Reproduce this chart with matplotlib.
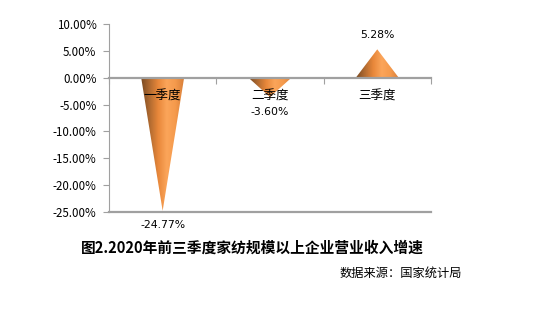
import matplotlib
matplotlib.use('Agg')
import matplotlib.pyplot as plt
import numpy as np
from matplotlib.patches import Polygon
from matplotlib.colors import LinearSegmentedColormap
from matplotlib.ticker import FuncFormatter

plt.rcParams['font.family'] = ['Noto Sans CJK SC', 'DejaVu Sans']

quarters = ['一季度', '二季度', '三季度']
growth = [-24.77, -3.60, 5.28]
labels = ['-24.77%', '-3.60%', '5.28%']
yticks = [10, 5, 0, -5, -10, -15, -20, -25]

title = '图2.2020年前三季度家纺规模以上企业营业收入增速'
source = '数据来源：国家统计局'

cone = LinearSegmentedColormap.from_list(
    'cone', ['#7a4a22', '#b06a30', '#e8873a', '#fba55a', '#f59a4c', '#d9803a'])

fig = plt.figure(figsize=(5.33, 3.11), dpi=100)
ax = fig.add_axes([0.2045, 0.318, 0.604, 0.605])

half = 0.2
grad = np.linspace(0, 1, 256).reshape(1, -1)
for i, v in enumerate(growth):
    poly = Polygon([(i - half, 0), (i + half, 0), (i, v)], closed=True,
                   facecolor='none', edgecolor='none')
    ax.add_patch(poly)
    im = ax.imshow(grad, cmap=cone, aspect='auto',
                   extent=(i - half, i + half, min(0, v), max(0, v)),
                   interpolation='bilinear', zorder=2)
    im.set_clip_path(poly)

ax.set_xlim(-0.5, len(quarters) - 0.5)
ax.set_ylim(-25, 10)
ax.set_yticks(yticks)
ax.yaxis.set_major_formatter(FuncFormatter(lambda y, p: f'{y:.2f}%'))
ax.tick_params(axis='y', labelsize=8.3, length=4, color='#a0a0a0', pad=5)

ax.set_xticks(np.arange(len(quarters) + 1) - 0.5)
ax.set_xticklabels([])
ax.tick_params(axis='x', length=4, color='#a0a0a0', direction='out')

for s in ['top', 'right']:
    ax.spines[s].set_visible(False)
ax.spines['left'].set_color('#a0a0a0')
ax.spines['bottom'].set_position(('data', 0))
ax.spines['bottom'].set_color('#a0a0a0')
ax.spines['bottom'].set_linewidth(1.6)
ax.spines['bottom'].set_zorder(3)
ax.axhline(ax.get_ylim()[0], color='#a0a0a0', lw=1.6, clip_on=False)

for i, q in enumerate(quarters):
    ax.annotate(q, (i, 0), xytext=(0, -13), textcoords='offset points',
                ha='center', va='center', fontsize=9, zorder=5)

for i, (v, t) in enumerate(zip(growth, labels)):
    off = 10 if v > 0 else -10
    if i == 1:
        off = -11
    ax.annotate(t, (i, v), xytext=(0, off), textcoords='offset points',
                ha='center', va='center', fontsize=7.8,
                family=['DejaVu Sans'], annotation_clip=False)

fig.text(0.473, 0.203, title, ha='center', va='center',
         fontsize=10.6, fontweight='bold')
fig.text(0.752, 0.122, source, ha='center', va='center', fontsize=8.8)

fig.savefig('out.png', dpi=100)
